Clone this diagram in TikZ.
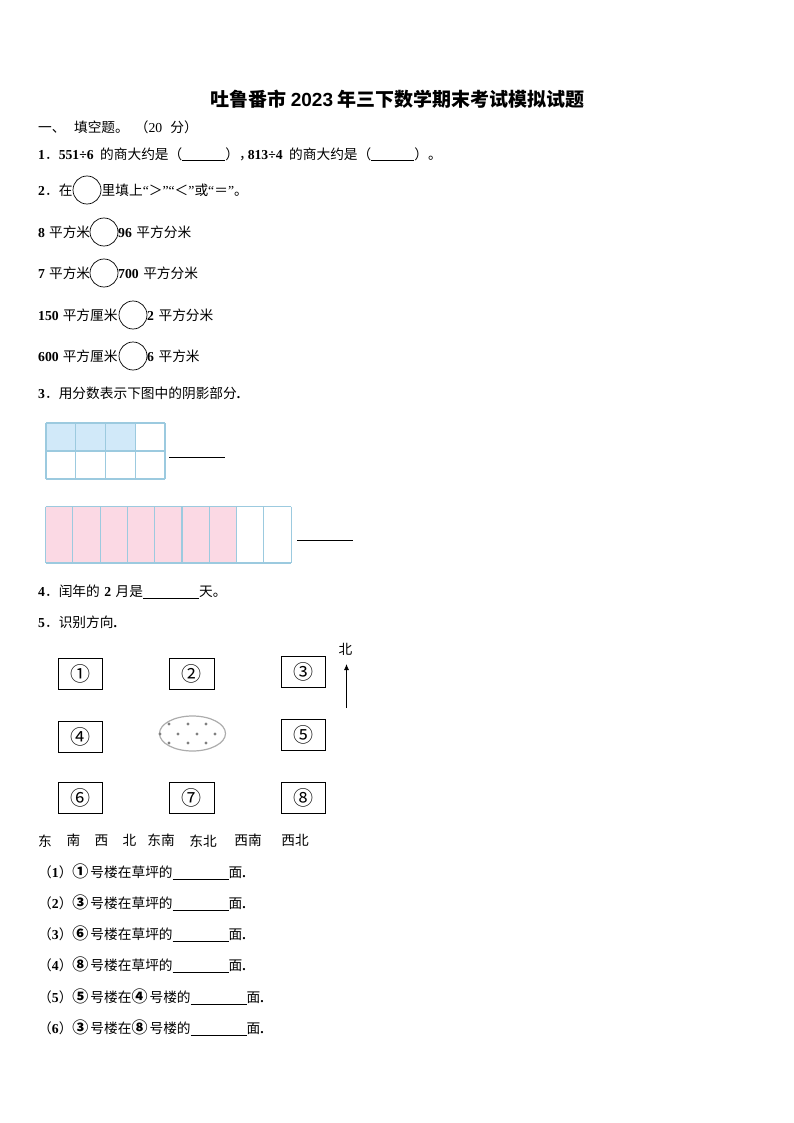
\documentclass[tikz,border=0pt]{standalone}
\usepackage{fontspec}
\usetikzlibrary{shapes.geometric,arrows.meta}
\setmainfont{Noto Sans CJK SC}
\newfontfamily\latfont{Liberation Serif}
\newfontfamily\titlefont{Liberation Sans}
\newcommand{\lat}[1]{{\latfont\bfseries #1}}
\newcommand{\blank}[1]{\rule[-1.5pt]{#1pt}{0.7pt}}
\newcommand{\bnum}[1]{{\fontsize{16}{16}\selectfont\bfseries #1}}
\newcommand{\qm}[1]{{\latfont #1}}
\tikzset{
  txt/.style={anchor=west, inner sep=0pt, yshift=-0.7pt, font=\fontsize{13.7}{14}\selectfont},
  ring/.style={draw, circle, inner sep=0pt, minimum size=28pt, line width=0.7pt},
  bldg/.style={draw, inner sep=0pt, minimum width=44.5pt, minimum height=31pt, line width=0.8pt,
    font=\fontsize{20}{20}\selectfont},
  gridline/.style={draw=gridblue, line width=1.1pt},
  answer/.style={line width=0.8pt}
}
\definecolor{gridblue}{HTML}{9CCADF}
\definecolor{cellblue}{HTML}{D1E9F9}
\definecolor{cellpink}{HTML}{FBD9E4}
\begin{document}
\begin{tikzpicture}[x=1pt, y=-1pt]
  \useasboundingbox (0,0) rectangle (794,1123);

  \node[inner sep=0pt, font=\fontsize{19}{20}\selectfont\bfseries] (title) at (397.5,99)
    {吐鲁番市 {\titlefont 2023} 年三下数学期末考试模拟试题};

  \node[txt] (part) at (38,127) {一、\hspace{8.5pt}填空题。\hspace{6pt}（{\latfont 20}\hspace{8pt}分）};
  \node[txt] (qone) at (38,153.5) {\lat{1}．\lat{551÷6}\hspace{6.5pt}的商大约是（\blank{43}），\hspace{-5pt}\lat{813÷4}\hspace{6.5pt}的商大约是（\blank{43}）。};

  % circles to fill in
  \node[txt] (qtwo) at (38,190) {\lat{2}．在};
  \node[ring] (ringa) at (87,190) {};
  \node[txt] (qtwob) at (101.5,190) {里填上\qm{“}＞\qm{”}\qm{“}＜\qm{”}或\qm{“}＝\qm{”}。};

  \node[txt] (rowa) at (38,232) {\lat{8}\hspace{4pt}平方米};
  \node[ring] (ringb) at (104,232) {};
  \node[txt] (rowab) at (118,232) {\lat{96}\hspace{4.5pt}平方分米};
  \node[txt] (rowb) at (38,273) {\lat{7}\hspace{4pt}平方米};
  \node[ring] (ringc) at (104,273) {};
  \node[txt] (rowbb) at (118,273) {\lat{700}\hspace{4.5pt}平方分米};
  \node[txt] (rowc) at (38,315) {\lat{150}\hspace{4pt}平方厘米};
  \node[ring] (ringd) at (133,315) {};
  \node[txt] (rowcb) at (147,315) {\lat{2}\hspace{4.5pt}平方分米};
  \node[txt] (rowd) at (38,356) {\lat{600}\hspace{4pt}平方厘米};
  \node[ring] (ringe) at (133,356) {};
  \node[txt] (rowdb) at (147,356) {\lat{6}\hspace{4.5pt}平方米};

  \node[txt] (qthree) at (38,393) {\lat{3}．用分数表示下图中的阴影部分\lat{.}};

  % fraction bars
  \fill[cellblue] (46,423) rectangle (135,451);
  \foreach \x in {46,75.75,105.5,135.25,165}
    \draw[gridline] (\x,423) -- (\x,479);
  \foreach \y in {423,451,479}
    \draw[gridline] (46,\y) -- (165,\y);
  \coordinate (ansa) at (169,457);
  \coordinate (ansb) at (225,457);
  \draw[answer] (ansa) -- (ansb);

  \fill[cellpink] (45.5,506.5) rectangle (236.6,563);
  \foreach \i in {0,...,9}
    \draw[gridline] (45.5+27.3*\i,506.5) -- (45.5+27.3*\i,563);
  \draw[gridline] (45.5,506.5) -- (291.2,506.5);
  \draw[gridline] (45.5,563) -- (291.2,563);
  \coordinate (ansc) at (297,540);
  \coordinate (ansd) at (353,540);
  \draw[answer] (ansc) -- (ansd);

  \node[txt] (qfour) at (38,591) {\lat{4}．闰年的\hspace{4.5pt}\lat{2}\hspace{4.5pt}月是\blank{56}天。};
  \node[txt] (qfive) at (38,622) {\lat{5}．识别方向\lat{.}};

  % map of the buildings
  \node[bldg] (bone) at (80.4,673.5) {\raisebox{-2pt}{①}};
  \node[bldg] (btwo) at (191.7,673.5) {②};
  \node[bldg] (bthree) at (303.2,671.7) {\raisebox{-2pt}{③}};
  \node[bldg] (bfour) at (80.4,736.7) {④};
  \node[bldg] (bfive) at (303.2,735) {⑤};
  \node[bldg] (bsix) at (80.4,797.7) {⑥};
  \node[bldg] (bseven) at (191.7,797.7) {⑦};
  \node[bldg] (beight) at (303.2,797.7) {⑧};

  \node[draw=gray!65, ellipse, line width=1.2pt, minimum width=66pt, minimum height=35pt, inner sep=0pt] (lawn) at (192.5,733.5) {};
  \foreach \x/\y in {169/724,188/724,206/724,160/734,178/734,197/734,215/734,169/743,188/743,206/743}
    \fill[gray] (\x,\y) circle (1.6pt);

  \node[txt, anchor=center] (north) at (345.5,649) {北};
  \coordinate (tail) at (346.5,708);
  \coordinate (head) at (346.5,664);
  \draw[-{Latex[length=6pt,width=5pt]}, line width=0.8pt] (tail) -- (head);

  \node[txt, anchor=center] (wa) at (45,840) {东};
  \node[txt, anchor=center] (wb) at (73.5,840) {南};
  \node[txt, anchor=center] (wc) at (101.5,840) {西};
  \node[txt, anchor=center] (wd) at (129.5,840) {北};
  \node[txt, anchor=center] (we) at (161,840) {东南};
  \node[txt, anchor=center] (wf) at (203,840) {东北};
  \node[txt, anchor=center] (wg) at (248,840) {西南};
  \node[txt, anchor=center] (wh) at (295,840) {西北};

  \node[txt] (ia) at (38,871) {（\lat{1}）\bnum{①}\hspace{2pt}号楼在草坪的\blank{56}面\lat{.}};
  \node[txt] (ib) at (38,902) {（\lat{2}）\bnum{③}\hspace{2pt}号楼在草坪的\blank{56}面\lat{.}};
  \node[txt] (ic) at (38,933) {（\lat{3}）\bnum{⑥}\hspace{2pt}号楼在草坪的\blank{56}面\lat{.}};
  \node[txt] (id) at (38,964) {（\lat{4}）\bnum{⑧}\hspace{2pt}号楼在草坪的\blank{56}面\lat{.}};
  \node[txt] (ie) at (38,996) {（\lat{5}）\bnum{⑤}\hspace{2pt}号楼在\bnum{④}\hspace{2pt}号楼的\blank{56}面\lat{.}};
  \node[txt] (if) at (38,1027) {（\lat{6}）\bnum{③}\hspace{2pt}号楼在\bnum{⑧}\hspace{2pt}号楼的\blank{56}面\lat{.}};
\end{tikzpicture}
\end{document}
